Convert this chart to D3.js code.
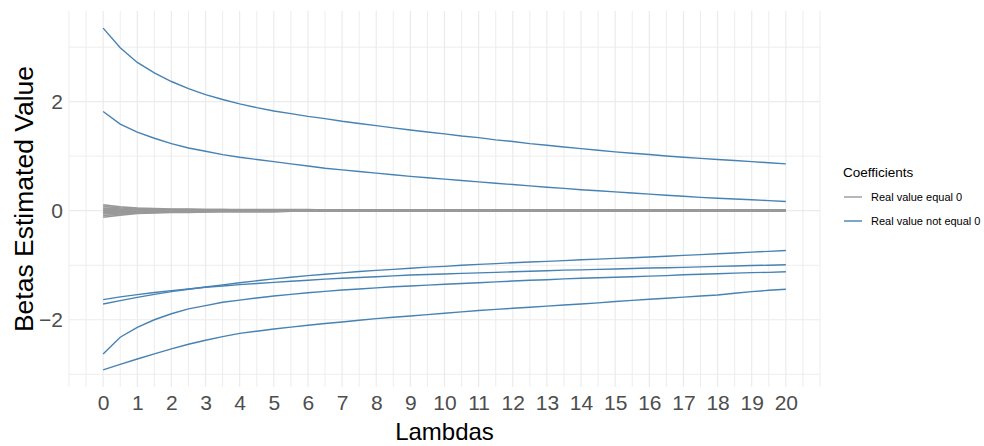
<!DOCTYPE html>
<html lang="en">
<head>
<meta charset="UTF-8">
<title>Ridge coefficients vs lambda</title>
<script src="https://d3js.org/d3.v7.min.js"></script>
<style>
  body {
    margin: 0;
    background-color: #ffffff;
    font-family: "Liberation Sans", Arial, sans-serif;
  }
  .grid-major { stroke: #ebebeb; stroke-width: 1.2; }
  .grid-minor { stroke: #ebebeb; stroke-width: 0.9; }
  .tick-label { fill: #4d4d4d; font-size: 21px; }
  .axis-title { fill: #000000; font-size: 24px; }
</style>
</head>
<body>
<svg id="chart"></svg>

<script>
// lambda grid
var lambdas = [0,0.5,1,1.5,2,2.5,3,3.5,4,4.5,5,5.5,6,6.5,7,7.5,8,8.5,9,9.5,10,
  10.5,11,11.5,12,12.5,13,13.5,14,14.5,15,15.5,16,16.5,17,17.5,18,18.5,19,19.5,20];

// coefficients whose real value is not 0
var betaA = [3.35,2.99,2.72,2.53,2.37,2.24,2.13,2.04,1.96,1.89,1.83,1.78,1.73,1.69,1.64,1.60,1.56,1.52,1.48,1.445,1.41,
  1.37,1.34,1.30,1.27,1.23,1.20,1.17,1.14,1.11,1.08,1.055,1.03,1.005,0.98,0.96,0.94,0.92,0.90,0.88,0.86];
var betaB = [1.82,1.59,1.44,1.33,1.23,1.15,1.09,1.03,0.98,0.94,0.90,0.86,0.82,0.78,0.75,0.72,0.69,0.66,0.63,0.605,0.58,
  0.555,0.53,0.505,0.48,0.455,0.43,0.41,0.385,0.365,0.345,0.325,0.305,0.285,0.265,0.245,0.23,0.215,0.20,0.185,0.17];
var betaC = [-1.71,-1.65,-1.59,-1.535,-1.485,-1.44,-1.40,-1.36,-1.32,-1.285,-1.25,-1.22,-1.19,-1.165,-1.14,-1.115,-1.095,-1.075,-1.055,-1.035,-1.02,
  -1.00,-0.985,-0.97,-0.955,-0.94,-0.93,-0.915,-0.90,-0.888,-0.875,-0.862,-0.85,-0.835,-0.82,-0.805,-0.79,-0.775,-0.76,-0.745,-0.73];
var betaD = [-1.63,-1.58,-1.54,-1.50,-1.465,-1.435,-1.405,-1.38,-1.355,-1.335,-1.315,-1.295,-1.275,-1.255,-1.24,-1.225,-1.21,-1.195,-1.18,-1.17,-1.16,
  -1.15,-1.14,-1.13,-1.12,-1.11,-1.10,-1.09,-1.085,-1.075,-1.07,-1.06,-1.05,-1.045,-1.04,-1.03,-1.02,-1.015,-1.005,-1.00,-0.99];
var betaE = [-2.63,-2.32,-2.14,-2.00,-1.89,-1.80,-1.74,-1.68,-1.64,-1.60,-1.565,-1.535,-1.505,-1.48,-1.455,-1.435,-1.415,-1.395,-1.38,-1.365,-1.35,
  -1.335,-1.32,-1.305,-1.29,-1.275,-1.265,-1.25,-1.24,-1.23,-1.22,-1.21,-1.20,-1.19,-1.175,-1.165,-1.155,-1.145,-1.135,-1.13,-1.12];
var betaF = [-2.92,-2.82,-2.72,-2.625,-2.535,-2.45,-2.375,-2.31,-2.25,-2.21,-2.17,-2.135,-2.10,-2.07,-2.04,-2.01,-1.98,-1.955,-1.93,-1.905,-1.88,
  -1.855,-1.83,-1.81,-1.79,-1.77,-1.75,-1.73,-1.71,-1.69,-1.665,-1.645,-1.625,-1.605,-1.585,-1.565,-1.545,-1.515,-1.485,-1.46,-1.44];

// coefficients whose real value is 0
var zero1 = [0.11,0.07,0.05,0.04,0.03,0.03,0.02,0.02,0.02,0.02,0.02,0.02,0.02,0.01,0.01,0.01,0.01,0.01,0.01,0.01,0.01,
  0.01,0.01,0.01,0.01,0.01,0.01,0.01,0.01,0.01,0.01,0.01,0.01,0.01,0.01,0.01,0.01,0.01,0.01,0.01,0.01];
var zero2 = [0.08,0.05,0.04,0.03,0.02,0.02,0.02,0.02,0.01,0.01,0.01,0.01,0.01,0.01,0.01,0.01,0.01,0.01,0.01,0.01,0.01,
  0.01,0.01,0.01,0.01,0.01,0.01,0.01,0.01,0.01,0.01,0.01,0.01,0.01,0.01,0.01,0.01,0.01,0.01,0.01,0.01];
var zero3 = [0.05,0.03,0.02,0.02,0.01,0.01,0.01,0.01,0.01,0.01,0.01,0.01,0.01,0.01,0.01,0,0,0,0,0,0,
  0,0,0,0,0,0,0,0,0,0,0,0,0,0,0,0,0,0,0,0];
var zero4 = [0.03,0.02,0.01,0.01,0.01,0.01,0,0,0,0,0,0,0,0,0,0,0,0,0,0,0,
  0,0,0,0,0,0,0,0,0,0,0,0,0,0,0,0,0,0,0,0];
var zero5 = [0.01,0.01,0,0,0,0,0,0,0,0,0,0,0,0,0,0,0,0,0,0,0,
  0,0,0,0,0,0,0,0,0,0,0,0,0,0,0,0,0,0,0,0];
var zero6 = [-0.02,-0.01,-0.01,-0.01,0,0,0,0,0,0,0,0,0,0,0,0,0,0,0,0,0,
  0,0,0,0,0,0,0,0,0,0,0,0,0,0,0,0,0,0,0,0];
var zero7 = [-0.04,-0.03,-0.02,-0.01,-0.01,-0.01,-0.01,0,0,0,0,0,0,0,0,0,0,0,0,0,0,
  0,0,0,0,0,0,0,0,0,0,0,0,0,0,0,0,0,0,0,0];
var zero8 = [-0.06,-0.04,-0.03,-0.02,-0.02,-0.01,-0.01,-0.01,-0.01,-0.01,-0.01,-0.01,-0.01,-0.01,-0.01,-0.01,-0.01,-0.01,-0.01,-0.01,-0.01,
  -0.01,-0.01,-0.01,-0.01,-0.01,-0.01,-0.01,-0.01,-0.01,-0.01,-0.01,-0.01,-0.01,-0.01,-0.01,-0.01,-0.01,-0.01,-0.01,-0.01];
var zero9 = [-0.09,-0.06,-0.04,-0.03,-0.02,-0.02,-0.02,-0.01,-0.01,-0.01,-0.01,-0.01,-0.01,-0.01,-0.01,-0.01,-0.01,-0.01,-0.01,-0.01,-0.01,
  -0.01,-0.01,-0.01,-0.01,-0.01,-0.01,-0.01,-0.01,-0.01,-0.01,-0.01,-0.01,-0.01,-0.01,-0.01,-0.01,-0.01,-0.01,-0.01,-0.01];
var zero10 = [-0.12,-0.08,-0.05,-0.04,-0.03,-0.03,-0.02,-0.02,-0.02,-0.02,-0.02,-0.01,-0.01,-0.01,-0.01,-0.01,-0.01,-0.01,-0.01,-0.01,-0.01,
  -0.01,-0.01,-0.01,-0.01,-0.01,-0.01,-0.01,-0.01,-0.01,-0.01,-0.01,-0.01,-0.01,-0.01,-0.01,-0.01,-0.01,-0.01,-0.01,-0.01];

var nonZeroSeries = [betaA, betaB, betaC, betaD, betaE, betaF];
var zeroSeries = [zero1, zero2, zero3, zero4, zero5, zero6, zero7, zero8, zero9, zero10];

// axis ticks
var xTicks = [0,1,2,3,4,5,6,7,8,9,10,11,12,13,14,15,16,17,18,19,20];
var xMinorTicks = [-1,-0.5,0.5,1.5,2.5,3.5,4.5,5.5,6.5,7.5,8.5,9.5,10.5,11.5,12.5,13.5,14.5,15.5,16.5,17.5,18.5,19.5,20.5,21];
var yTicks = [-2, 0, 2];
var yMinorTicks = [-3, -1, 1, 3];

var legendLabels = ["Real value equal 0", "Real value not equal 0"];
var legendColors = ["#999999", "#4682b4"];

var width = 984, height = 446;
var panel = { left: 69, right: 820, top: 11, bottom: 387 };

var svg = d3.select("#chart")
  .attr("width", width)
  .attr("height", height);

// scales with ggplot's 5% expansion
var xScale = d3.scaleLinear()
  .domain([-1, 21])
  .range([panel.left, panel.right]);

var allValues = d3.merge(nonZeroSeries.concat(zeroSeries));
var yExt = d3.extent(allValues);
var yPad = (yExt[1] - yExt[0]) * 0.05;
var yScale = d3.scaleLinear()
  .domain([yExt[0] - yPad, yExt[1] + yPad])
  .range([panel.bottom, panel.top]);

// grid
var grid = svg.append("g");
grid.selectAll("line.ymin").data(yMinorTicks).enter().append("line")
  .attr("class", "grid-minor")
  .attr("x1", panel.left).attr("x2", panel.right)
  .attr("y1", d => yScale(d)).attr("y2", d => yScale(d));
grid.selectAll("line.xmin").data(xMinorTicks).enter().append("line")
  .attr("class", "grid-minor")
  .attr("y1", panel.top).attr("y2", panel.bottom)
  .attr("x1", d => xScale(d)).attr("x2", d => xScale(d));
grid.selectAll("line.ymaj").data(yTicks).enter().append("line")
  .attr("class", "grid-major")
  .attr("x1", panel.left).attr("x2", panel.right)
  .attr("y1", d => yScale(d)).attr("y2", d => yScale(d));
grid.selectAll("line.xmaj").data(xTicks).enter().append("line")
  .attr("class", "grid-major")
  .attr("y1", panel.top).attr("y2", panel.bottom)
  .attr("x1", d => xScale(d)).attr("x2", d => xScale(d));

var line = d3.line()
  .x((d, i) => xScale(lambdas[i]))
  .y(d => yScale(d));

svg.append("g").selectAll("path")
  .data(zeroSeries)
  .enter()
  .append("path")
  .attr("d", line)
  .attr("fill", "none")
  .attr("stroke", legendColors[0])
  .attr("stroke-width", 1.7);

svg.append("g").selectAll("path")
  .data(nonZeroSeries)
  .enter()
  .append("path")
  .attr("d", line)
  .attr("fill", "none")
  .attr("stroke", legendColors[1])
  .attr("stroke-width", 1.4);

// axes (no domain line, no ticks, like theme_minimal)
var xAxis = svg.append("g")
  .attr("transform", "translate(0," + (panel.bottom + 4) + ")")
  .call(d3.axisBottom(xScale).tickValues(xTicks).tickSize(0).tickPadding(4));
xAxis.select(".domain").remove();
xAxis.selectAll("text").attr("class", "tick-label").attr("fill", null)
  .style("font-family", "Liberation Sans, Arial, sans-serif");

var yAxis = svg.append("g")
  .attr("transform", "translate(" + (panel.left - 4) + ",0)")
  .call(d3.axisLeft(yScale).tickValues(yTicks).tickSize(0).tickPadding(2)
    .tickFormat(d => d < 0 ? "\u2212" + Math.abs(d) : d));
yAxis.select(".domain").remove();
yAxis.selectAll("text").attr("class", "tick-label").attr("fill", null)
  .style("font-family", "Liberation Sans, Arial, sans-serif");

svg.append("text")
  .attr("class", "axis-title")
  .attr("x", (panel.left + panel.right) / 2)
  .attr("y", 440)
  .attr("text-anchor", "middle")
  .text("Lambdas");

svg.append("text")
  .attr("class", "axis-title")
  .attr("transform", "translate(33," + ((panel.top + panel.bottom) / 2) + ") rotate(-90)")
  .attr("text-anchor", "middle")
  .style("font-size", "26.5px")
  .text("Betas Estimated Value");

// legend
var legend = svg.append("g").attr("transform", "translate(843,0)");
legend.append("text")
  .attr("x", 0).attr("y", 177)
  .style("font-size", "13.5px")
  .text("Coefficients");
var items = legend.selectAll("g.item")
  .data(legendLabels)
  .enter()
  .append("g")
  .attr("transform", (d, i) => "translate(0," + (197 + i * 24) + ")");
items.append("line")
  .attr("x1", 1).attr("x2", 19)
  .attr("stroke", (d, i) => legendColors[i])
  .attr("stroke-width", 1.4);
items.append("text")
  .attr("x", 28).attr("y", 4)
  .style("font-size", "11px")
  .text(d => d);
</script>
</body>
</html>
